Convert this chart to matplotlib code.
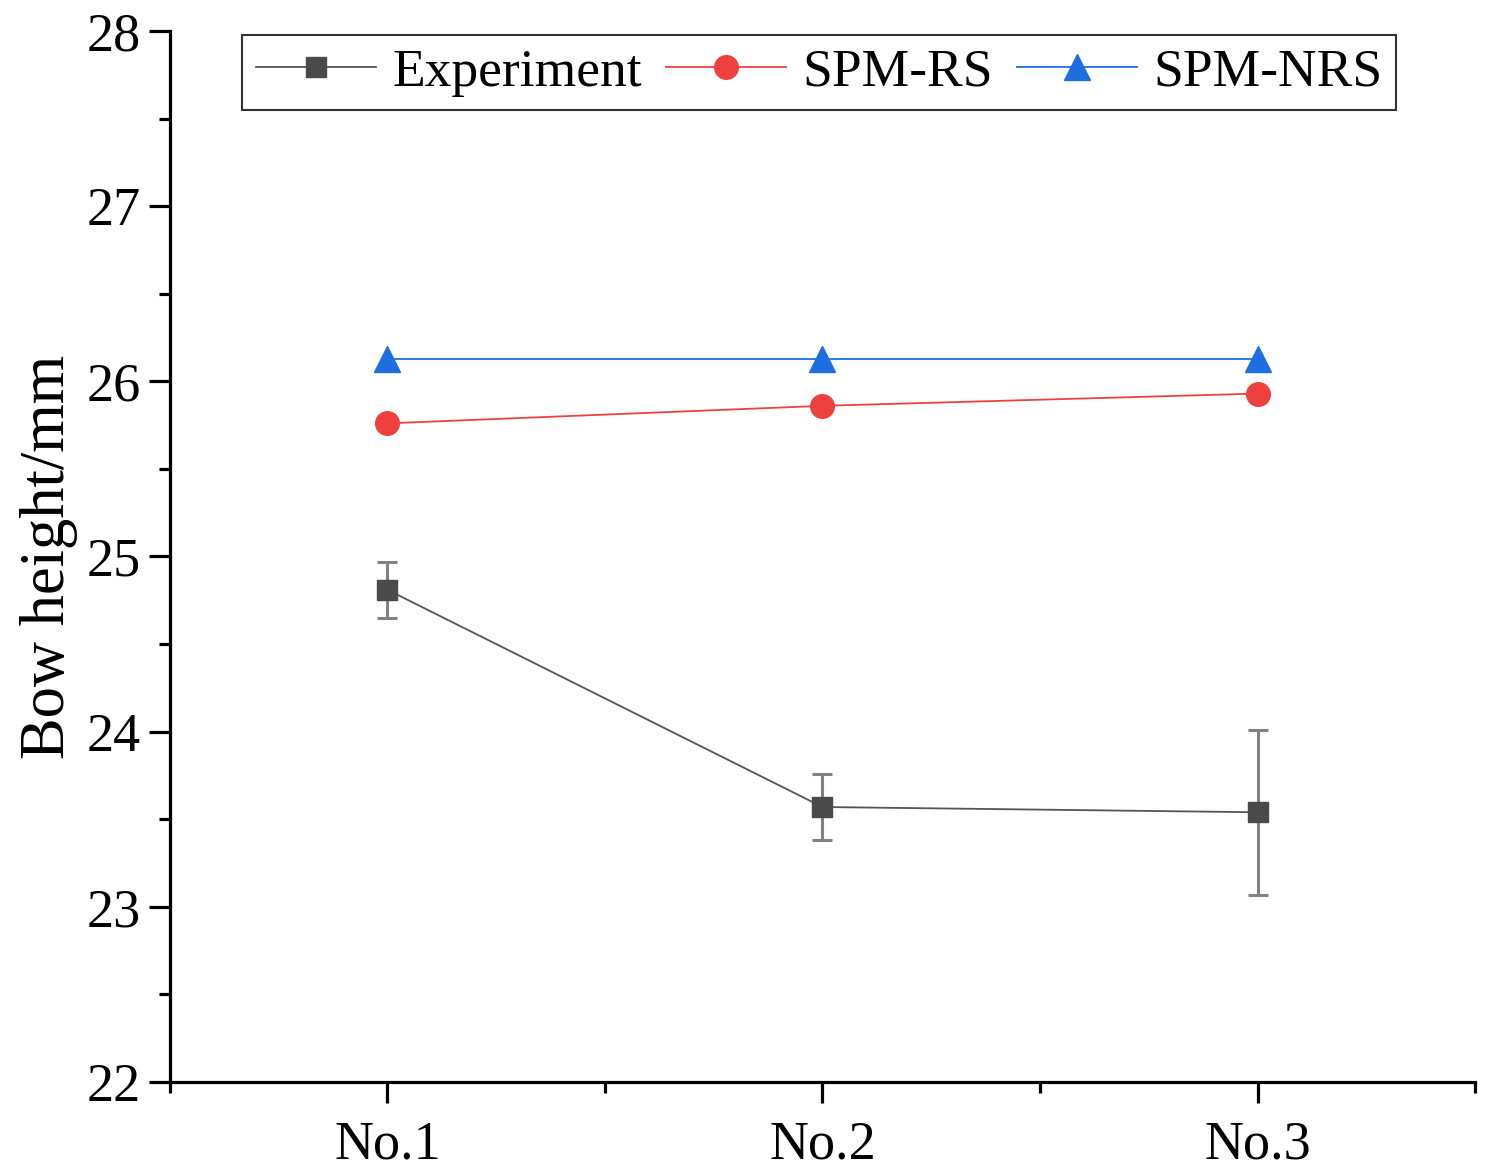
import matplotlib
matplotlib.use("Agg")
import matplotlib.pyplot as plt
from matplotlib.ticker import MultipleLocator, FixedLocator

samples = ["No.1", "No.2", "No.3"]
experiment = [24.81, 23.57, 23.54]
experiment_err = [0.16, 0.19, 0.47]
spm_rs = [25.76, 25.86, 25.93]
spm_nrs = [26.13, 26.13, 26.13]

plt.rcParams['font.family'] = ['Liberation Serif', 'DejaVu Serif']

fig = plt.figure(figsize=(14.88, 11.68), dpi=100)
ax = fig.add_axes([0.1142, 0.0736, 0.8771, 0.8999])

x = list(range(1, len(samples) + 1))

# error bars drawn separately so the legend shows plain line+marker handles
ax.errorbar(x, experiment, yerr=experiment_err, fmt='none',
            ecolor='#828282', elinewidth=2.2, capsize=7.5, capthick=2.2,
            zorder=2)
h_exp, = ax.plot(x, experiment, color='#555555', lw=1.3, marker='s', ms=15,
                 mfc='#4a4a4a', mec='#4a4a4a', label='Experiment', zorder=3)
h_rs, = ax.plot(x, spm_rs, color='#ef4040', lw=1.3, marker='o', ms=17,
                mfc='#ef4040', mec='#ef4040', label='SPM-RS', zorder=3)
h_nrs, = ax.plot(x, spm_nrs, color='#2070e0', lw=1.3, marker='^', ms=19,
                 mfc='#1f6ee0', mec='#1f6ee0', label='SPM-NRS', zorder=3)

ax.set_xlim(0.5, 3.5)
ax.set_ylim(22, 28)
ax.set_xticks(x)
ax.set_xticklabels(samples)
ax.xaxis.set_minor_locator(FixedLocator([0.5, 1.5, 2.5, 3.5]))
ax.yaxis.set_major_locator(MultipleLocator(1))
ax.yaxis.set_minor_locator(MultipleLocator(0.5))

for side in ['top', 'right']:
    ax.spines[side].set_visible(False)
for side in ['left', 'bottom']:
    ax.spines[side].set_linewidth(2.3)

ax.tick_params(which='major', direction='out', length=15, width=2.3,
               labelsize=39, pad=6)
ax.tick_params(axis='x', which='major', pad=12)
ax.tick_params(which='minor', direction='out', length=8, width=2.3)

ax.set_ylabel('Bow height/mm', fontsize=45, labelpad=6)

leg = ax.legend(handles=[h_exp, h_rs, h_nrs], loc='upper left',
                bbox_to_anchor=(0.0555, 0.996), ncol=3,
                fontsize=38.5, frameon=True, fancybox=False, edgecolor='black',
                handlelength=2.25, handletextpad=0.3, columnspacing=0.45,
                borderpad=0.25, borderaxespad=0)
leg.get_frame().set_linewidth(1.5)

fig.savefig('out.png', dpi=100)
